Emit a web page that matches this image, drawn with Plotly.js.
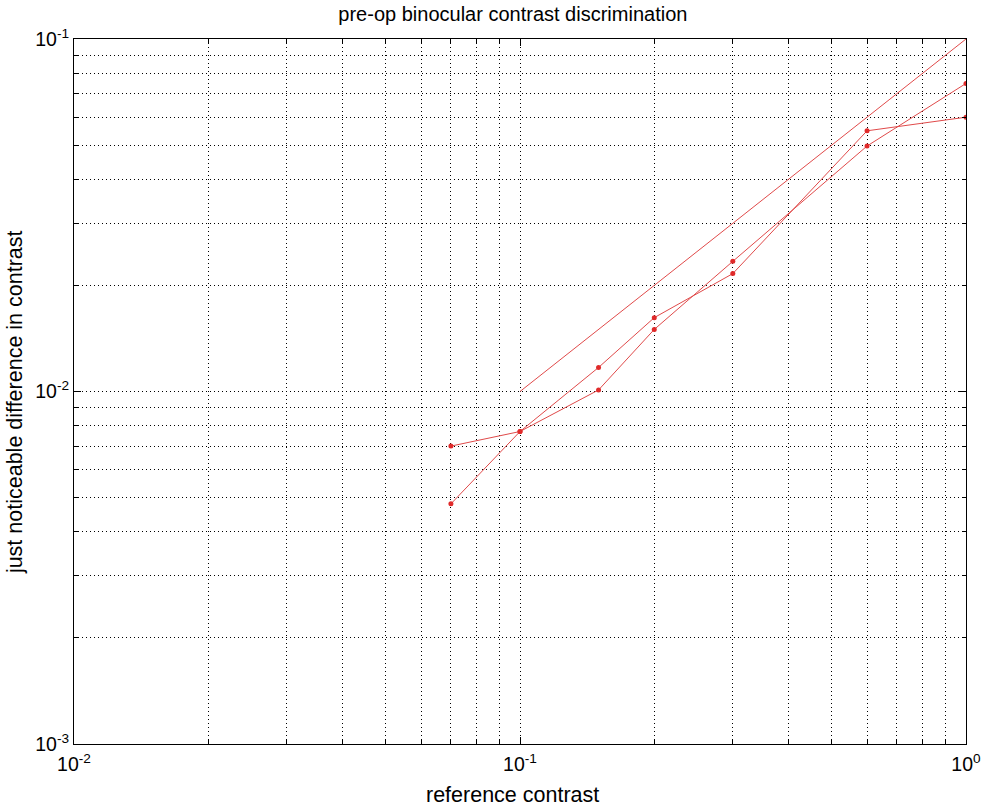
<!DOCTYPE html>
<html>
<head>
<meta charset="utf-8">
<script src="https://cdn.plot.ly/plotly-3.0.1.min.js"></script>
<style>
html,body{margin:0;padding:0;background:#fff;}
#chart{width:986px;height:811px;}
</style>
</head>
<body>
<div id="chart"></div>
<script>
// Data
const refContrast = [0.07, 0.1, 0.15, 0.2, 0.3, 0.6, 1.0];
const jndSeriesA = [0.0048, 0.0077, 0.0117, 0.0162, 0.0216, 0.0549, 0.0600];
const jndSeriesB = [0.0070, 0.0077, 0.0101, 0.0150, 0.0234, 0.0497, 0.0748];
const weberX = [0.1, 1.0];
const weberY = [0.01, 0.1];
const xTickVals = [0.01, 0.1, 1];
const xTickText = ['10<sup>-2</sup>', '10<sup>-1</sup>', '10<sup>0</sup>'];
const yTickVals = [0.001, 0.01, 0.1];
const yTickText = ['10<sup>-3</sup>', '10<sup>-2</sup>', '10<sup>-1</sup>'];
const chartTitle = 'pre-op binocular contrast discrimination';
const xTitle = 'reference contrast';
const yTitle = 'just noticeable difference in contrast';

const lineColor = '#e04a4a';
const markerColor = '#e02a2a';

const traces = [
  {x: weberX, y: weberY, mode: 'lines', line: {color: lineColor, width: 1}, hoverinfo: 'skip'},
  {x: refContrast, y: jndSeriesA, mode: 'lines+markers', line: {color: lineColor, width: 1},
   marker: {color: markerColor, size: 5}},
  {x: refContrast, y: jndSeriesB, mode: 'lines+markers', line: {color: lineColor, width: 1},
   marker: {color: markerColor, size: 5}}
];

const font = {family: 'Liberation Sans, Arial, sans-serif', color: '#000'};

function axis(range, vals, text, labelStandoff) {
  return {
    type: 'log',
    range: range,
    tickmode: 'array',
    tickvals: vals,
    ticktext: text,
    ticks: 'inside',
    ticklen: 7,
    tickwidth: 1,
    tickcolor: '#000',
    mirror: 'allticks',
    showline: true,
    linecolor: '#000',
    linewidth: 1,
    showgrid: true,
    gridcolor: '#000',
    gridwidth: 1,
    griddash: '1px,3px',
    zeroline: false,
    ticklabelstandoff: labelStandoff,
    tickfont: Object.assign({size: 19.5}, font),
    minor: {
      dtick: 'D1',
      ticks: 'inside',
      ticklen: 4,
      tickcolor: '#000',
      showgrid: true,
      gridcolor: '#000',
      gridwidth: 1,
      griddash: '1px,3px'
    },
    automargin: false,
    fixedrange: true
  };
}

const layout = {
  width: 986,
  height: 811,
  margin: {l: 74, r: 20, t: 39, b: 67},
  paper_bgcolor: '#fff',
  plot_bgcolor: '#fff',
  showlegend: false,
  title: {text: chartTitle, font: Object.assign({size: 20}, font),
          x: 0.492, xref: 'paper', xanchor: 'center', y: 1 - 14/811, yref: 'container', yanchor: 'middle'},
  xaxis: axis([-2, 0], xTickVals, xTickText, 3),
  yaxis: axis([-3, -1], yTickVals, yTickText, 0),
  annotations: [
    {text: xTitle, xref: 'paper', yref: 'paper', x: 0.492, y: -0.0723,
     xanchor: 'center', yanchor: 'middle', showarrow: false, font: Object.assign({size: 21.5}, font)},
    {text: yTitle, xref: 'paper', yref: 'paper', x: -0.0661, y: 0.485, textangle: -90,
     xanchor: 'center', yanchor: 'middle', showarrow: false, font: Object.assign({size: 21.5}, font)}
  ]
};

Plotly.newPlot('chart', traces, layout, {displayModeBar: false, staticPlot: true});
</script>
</body>
</html>
